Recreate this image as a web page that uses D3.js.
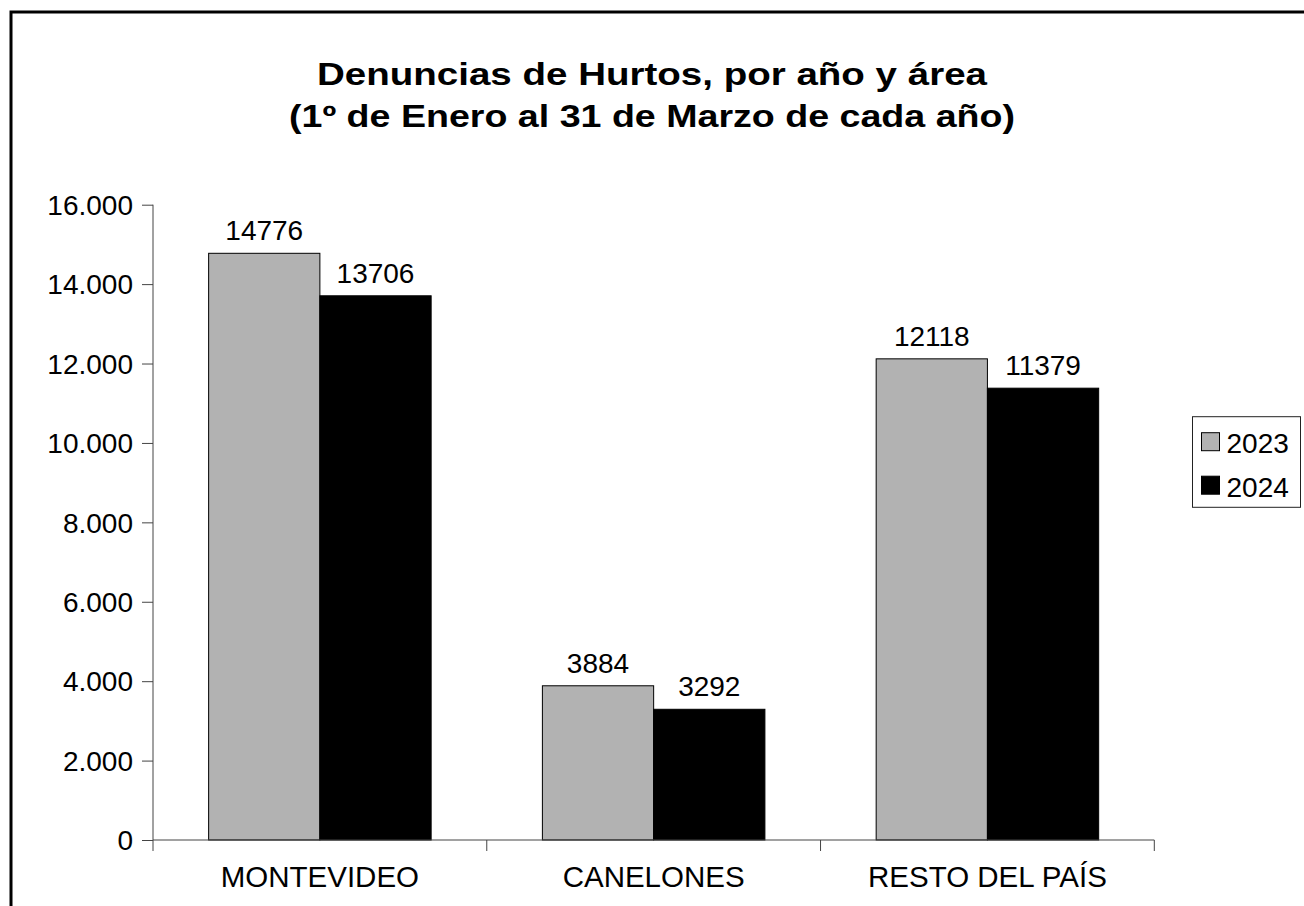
<!DOCTYPE html>
<html>
<head>
<meta charset="utf-8">
<script src="https://cdn.jsdelivr.net/npm/d3@7"></script>
<style>
	body { margin: 0; background: #fff; }
	svg text { font-family: "Liberation Sans", Arial, sans-serif; fill: #000; }
</style>
</head>
<body>
<svg id="container"></svg>
<script>
// chart data
const areas = ["MONTEVIDEO", "CANELONES", "RESTO DEL PAÍS"];
const years = ["2023", "2024"];
const values2023 = [14776, 3884, 12118];
const values2024 = [13706, 3292, 11379];
const yTicks = [0, 2000, 4000, 6000, 8000, 10000, 12000, 14000, 16000];
const titleLines = ["Denuncias de Hurtos, por año y área", "(1º de Enero al 31 de Marzo de cada año)"];
const colors = { "2023": "#b2b2b2", "2024": "#000000" };

function drawChart() {
	const W = 1304, H = 906;

	var svg = d3.select("#container")
		.attr("width", W)
		.attr("height", H);

	// outer frame (runs off the right and bottom edges)
	svg.append("rect")
		.attr("x", 11).attr("y", 12)
		.attr("width", 1310).attr("height", 910)
		.attr("fill", "#fff")
		.attr("stroke", "#000")
		.attr("stroke-width", 3);

	// title - the original is stretched sideways, so squeeze glyphs to fit
	const titleWidths = [670, 726];
	svg.selectAll(".title")
		.data(titleLines)
		.enter()
		.append("text")
		.attr("class", "title")
		.attr("x", 652)
		.attr("y", (d, i) => 85 + i * 42)
		.attr("text-anchor", "middle")
		.attr("textLength", (d, i) => titleWidths[i])
		.attr("lengthAdjust", "spacingAndGlyphs")
		.style("font-size", "30.5px")
		.style("font-weight", "bold")
		.text(d => d);

	const rows = areas.map((a, i) => ({ area: a, values: [values2023[i], values2024[i]] }));

	const x0 = d3.scaleBand().domain(areas).range([153, 1154.3]).padding(0);
	const x1 = d3.scaleBand().domain(years).range([0, x0.bandwidth()]).paddingInner(0).paddingOuter(0.5);
	const y = d3.scaleLinear().domain([0, 16000]).range([840, 204.7]);

	const locale = d3.formatLocale({ decimal: ",", thousands: ".", grouping: [3], currency: ["", ""] });
	const fmt = locale.format(",");

	// y axis
	const gY = svg.append("g")
		.attr("transform", "translate(153,0)")
		.call(d3.axisLeft(y).tickValues(yTicks).tickSize(11).tickPadding(9).tickFormat(fmt));
	gY.select(".domain").attr("stroke", "#444").attr("d", "M0," + y(16000) + "V" + y(0));
	gY.selectAll(".tick line").attr("stroke", "#444");
	gY.selectAll(".tick text").style("font-size", "28px").attr("dy", "0.35em");

	// bars
	const groups = svg.selectAll(".group")
		.data(rows)
		.enter()
		.append("g")
		.attr("class", "group")
		.attr("transform", d => "translate(" + x0(d.area) + ",0)");

	groups.selectAll("rect")
		.data(d => d.values.map((v, i) => ({ year: years[i], value: v })))
		.enter()
		.append("rect")
		.attr("x", d => x1(d.year))
		.attr("y", d => y(d.value))
		.attr("width", x1.bandwidth())
		.attr("height", d => y(0) - y(d.value))
		.attr("fill", d => colors[d.year])
		.attr("stroke", "#000")
		.attr("stroke-width", 1);

	groups.selectAll(".val")
		.data(d => d.values.map((v, i) => ({ year: years[i], value: v })))
		.enter()
		.append("text")
		.attr("class", "val")
		.attr("x", d => x1(d.year) + x1.bandwidth() / 2)
		.attr("y", d => y(d.value) - 13)
		.attr("text-anchor", "middle")
		.style("font-size", "28px")
		.text(d => d.value);

	// x axis: ticks at category boundaries
	const gX = svg.append("g").attr("class", "x-axis");
	gX.append("line")
		.attr("x1", 153).attr("x2", 1154.3)
		.attr("y1", y(0)).attr("y2", y(0))
		.attr("stroke", "#444");
	const bounds = areas.map(a => x0(a)).concat([x0.range()[1]]);
	gX.selectAll(".xt")
		.data(bounds)
		.enter()
		.append("line")
		.attr("class", "xt")
		.attr("x1", d => d).attr("x2", d => d)
		.attr("y1", y(0)).attr("y2", y(0) + 11)
		.attr("stroke", "#444");
	gX.selectAll(".xl")
		.data(areas)
		.enter()
		.append("text")
		.attr("class", "xl")
		.attr("x", d => x0(d) + x0.bandwidth() / 2)
		.attr("y", 887)
		.attr("text-anchor", "middle")
		.style("font-size", "29.5px")
		.text(d => d);

	// legend
	const legend = svg.append("g").attr("transform", "translate(1192.5,416.7)");
	legend.append("rect")
		.attr("width", 108).attr("height", 90.6)
		.attr("fill", "#fff").attr("stroke", "#222");
	const items = legend.selectAll(".item")
		.data(years)
		.enter()
		.append("g")
		.attr("class", "item")
		.attr("transform", (d, i) => "translate(0," + i * 43.5 + ")");
	items.append("rect")
		.attr("x", 9).attr("y", 16)
		.attr("width", 18).attr("height", 18)
		.attr("fill", d => colors[d])
		.attr("stroke", "#000");
	items.append("text")
		.attr("x", 34).attr("y", 36.6)
		.style("font-size", "28px")
		.text(d => d);
}

drawChart();
</script>
</body>
</html>
